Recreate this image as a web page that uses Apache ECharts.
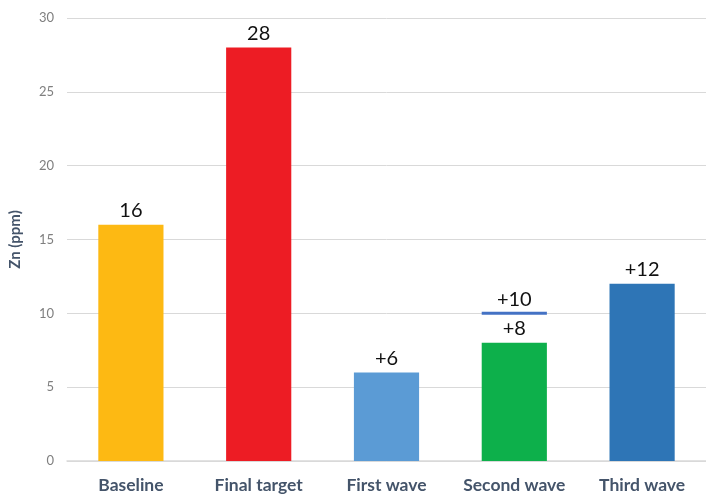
<!DOCTYPE html>
<html>
<head>
<meta charset="utf-8">
<script src="https://cdn.jsdelivr.net/npm/echarts@6/dist/echarts.min.js"></script>
<style>html,body{margin:0;padding:0;background:#fff}#c{width:706px;height:498px}</style>
</head>
<body>
<div id="c"></div>
<script>
var categories = ['Baseline', 'Final target', 'First wave', 'Second wave', 'Third wave'];
var values = [16, 28, 6, 8, 12];
var valueLabels = ['16', '28', '+6', '+8', '+12'];
var barColors = ['#FDB913', '#ED1C24', '#5B9BD5', '#0DB04B', '#2E75B6'];
var markerCategory = 'Second wave';
var markerValue = 10;
var markerLabel = '+10';
var yTicks = [0, 5, 10, 15, 20, 25, 30];

var chart = echarts.init(document.getElementById('c'));
chart.setOption({
  animation: false,
  grid: { left: 62, right: 0, top: 18, bottom: 37 },
  xAxis: {
    type: 'category',
    data: categories,
    axisTick: { show: false },
    axisLine: { lineStyle: { color: '#D9D9D9', width: 1.5 } },
    axisLabel: { interval: 0, hideOverlap: false, color: '#44546A', fontSize: 17.5, fontWeight: 'bold', fontFamily: 'Lato', margin: 15 }
  },
  yAxis: {
    type: 'value',
    min: yTicks[0], max: yTicks[yTicks.length - 1], interval: 5,
    name: 'Zn (ppm)',
    nameLocation: 'middle',
    nameGap: 44,
    nameTextStyle: { color: '#44546A', fontSize: 15, fontWeight: 'bold', fontFamily: 'Lato' },
    axisLine: { show: false },
    axisTick: { show: false },
    axisLabel: { color: '#7F7F7F', fontSize: 13, fontFamily: 'Lato', margin: 13 },
    splitLine: { lineStyle: { color: '#D9D9D9', width: 1 } }
  },
  series: [{
    type: 'bar',
    barWidth: '51%',
    data: values.map(function (v, i) {
      return {
        value: v,
        itemStyle: { color: barColors[i] },
        label: { formatter: valueLabels[i] }
      };
    }),
    label: { show: true, position: 'top', distance: 4, color: '#111', fontSize: 20, fontFamily: 'Lato' }
  }, {
    type: 'custom',
    data: [[markerCategory, markerValue]],
    renderItem: function (params, api) {
      var p = api.coord([api.value(0), api.value(1)]);
      var w = api.size([1, 0])[0] * 0.51;
      return {
        type: 'group',
        children: [{
          type: 'line',
          shape: { x1: p[0] - w / 2, y1: p[1], x2: p[0] + w / 2, y2: p[1] },
          style: { stroke: '#4472C4', lineWidth: 3 }
        }, {
          type: 'text',
          x: p[0], y: p[1] - 4,
          style: { text: markerLabel, textAlign: 'center', textVerticalAlign: 'bottom', fill: '#111', fontSize: 20, fontFamily: 'Lato' }
        }]
      };
    },
    encode: { x: 0, y: 1 },
    z: 5
  }]
});
</script>
</body>
</html>
